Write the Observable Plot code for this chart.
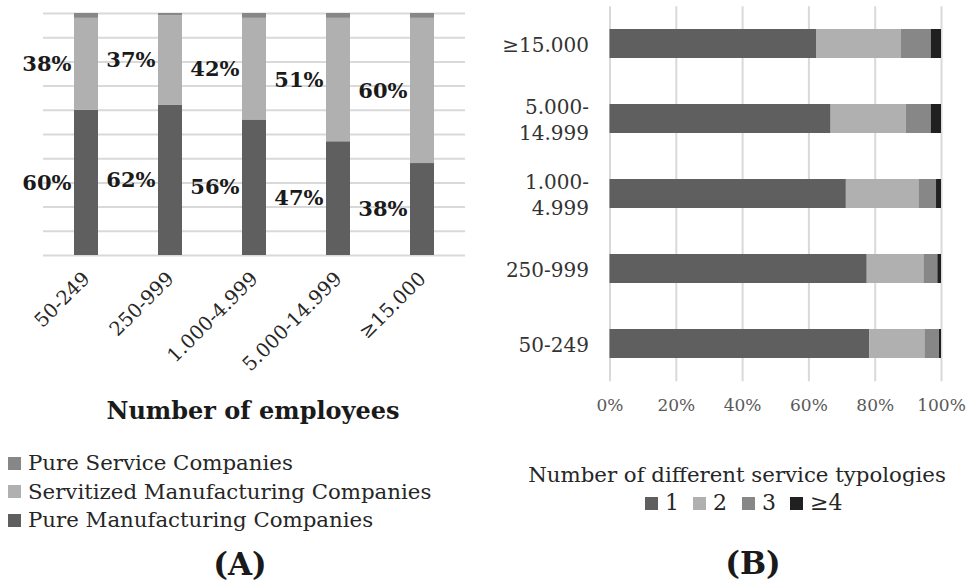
<!DOCTYPE html>
<html>
<head>
<meta charset="utf-8">
<script src="https://cdn.jsdelivr.net/npm/d3@7"></script>
<script src="https://cdn.jsdelivr.net/npm/@observablehq/plot@0.6"></script>
<style>
  body { margin: 0; background: white; }
  #wrap { position: relative; width: 968px; height: 585px; background: white; font-family: "DejaVu Serif", serif; color: #262626; overflow: hidden; }
  .abs { position: absolute; white-space: nowrap; }
  .sq { position: absolute; width: 13px; height: 13px; }
</style>
</head>
<body>
<div id="wrap"></div>
<script>
// ---------- Panel A data ----------
const sizesA = ["50-249", "250-999", "1.000-4.999", "5.000-14.999", "≥15.000"];
const typesA = ["Pure Manufacturing Companies", "Servitized Manufacturing Companies", "Pure Service Companies"];
const pureManufacturing = [60, 62, 56, 47, 38];
const servitized = [38, 37, 42, 51, 60];
const pureService = [2, 1, 2, 2, 2];
const colorsA = ["#5f5f5f", "#b0b0b0", "#878787"];
const legendOrderA = ["Pure Service Companies", "Servitized Manufacturing Companies", "Pure Manufacturing Companies"];

// ---------- Panel B data ----------
const sizesB = ["≥15.000", "5.000-14.999", "1.000-4.999", "250-999", "50-249"];
const sizeLabelsB = ["≥15.000", "5.000-\n14.999", "1.000-\n4.999", "250-999", "50-249"];
const typologies = ["1", "2", "3", "≥4"];
const typ1 = [62.3, 66.7, 71.3, 77.6, 78.4];
const typ2 = [25.5, 22.7, 21.9, 17.1, 16.6];
const typ3 = [9.1, 7.5, 5.3, 4.2, 4.4];
const typ4 = [3.1, 3.1, 1.5, 1.1, 0.6];
const colorsB = ["#5f5f5f", "#b0b0b0", "#878787", "#202020"];
const xTicksB = [0, 20, 40, 60, 80, 100];

const wrap = document.getElementById("wrap");

// ---------- Panel A ----------
const seriesA = [pureManufacturing, servitized, pureService];
const dataA = [];
sizesA.forEach((s, i) => typesA.forEach((t, j) => dataA.push({size: s, type: t, value: seriesA[j][i]})));

const chartA = Plot.plot({
  width: 480, height: 392,
  marginLeft: 43, marginRight: 15, marginTop: 13, marginBottom: 137,
  style: {fontFamily: "DejaVu Serif", fontSize: "19.5px", color: "#262626", background: "white"},
  x: {domain: sizesA, paddingInner: 0.715, paddingOuter: 0.3575, label: null, tickSize: 0, tickRotate: -45, tickPadding: 20},
  y: {domain: [0, 100], axis: null},
  color: {domain: typesA, range: colorsA},
  marks: [
    Plot.gridY(d3.range(0, 101, 10), {stroke: "#d9d9d9", strokeOpacity: 1, strokeWidth: 2}),
    Plot.barY(dataA, {x: "size", y: "value", fill: "type", order: typesA}),
    Plot.text(dataA, Plot.stackY({
      x: "size", y: "value", z: "type", order: typesA,
      filter: d => d.type !== "Pure Service Companies",
      text: d => d.value + "%",
      textAnchor: "end", dx: -15, fontWeight: "bold", fontSize: 21, fill: "#1a1a1a"
    }))
  ]
});
chartA.style.position = "absolute";
chartA.style.left = "0px";
chartA.style.top = "0px";
wrap.appendChild(chartA);

function addText(txt, x, y, opts = {}) {
  const d = document.createElement("div");
  d.className = "abs";
  d.textContent = txt;
  d.style.left = x + "px";
  d.style.top = y + "px";
  d.style.fontSize = (opts.size || 20) + "px";
  d.style.lineHeight = "1";
  if (opts.bold) d.style.fontWeight = "bold";
  if (opts.center) d.style.transform = "translate(-50%, -50%)";
  else d.style.transform = "translate(0, -50%)";
  if (opts.color) d.style.color = opts.color;
  wrap.appendChild(d);
  return d;
}
function addSquare(x, y, color) {
  const s = document.createElement("div");
  s.className = "sq";
  s.style.left = x + "px";
  s.style.top = (y - 6.5) + "px";
  s.style.background = color;
  wrap.appendChild(s);
}

addText("Number of employees", 253, 411, {size: 24, bold: true, center: true, color: "#1a1a1a"});
legendOrderA.forEach((t, i) => {
  const y = 463 + i * 28.5;
  addSquare(8, y, colorsA[typesA.indexOf(t)]);
  addText(t, 28, y, {size: 21.3});
});
addText("(A)", 240, 564, {size: 31, bold: true, center: true, color: "#1a1a1a"});

// ---------- Panel B ----------
const seriesB = [typ1, typ2, typ3, typ4];
const dataB = [];
sizesB.forEach((s, i) => typologies.forEach((t, j) => dataB.push({size: s, typ: t, value: seriesB[j][i]})));
const labelRows = sizesB.map((s, i) => ({size: s, label: sizeLabelsB[i]}));

const chartB = Plot.plot({
  width: 488, height: 420,
  marginLeft: 129.5, marginRight: 27, marginTop: 6.3, marginBottom: 38.7,
  style: {fontFamily: "DejaVu Serif", fontSize: "17px", color: "#595959", background: "white", overflow: "visible"},
  x: {domain: [0, 100], ticks: xTicksB, tickFormat: d => d + "%", tickSize: 0, tickPadding: 17, label: null},
  y: {domain: sizesB, paddingInner: 0.613, paddingOuter: 0.3065, axis: null},
  color: {domain: typologies, range: colorsB},
  marks: [
    Plot.gridX(xTicksB, {stroke: "#d9d9d9", strokeOpacity: 1, strokeWidth: 2}),
    Plot.barX(dataB, {y: "size", x: "value", fill: "typ", order: typologies}),
    Plot.text(labelRows, {y: "size", text: "label", frameAnchor: "left", textAnchor: "end", dx: -21,
      lineHeight: 1.3, fontSize: 20, fill: "#333333"})
  ]
});
chartB.style.position = "absolute";
chartB.style.left = "480px";
chartB.style.top = "0px";
wrap.appendChild(chartB);

addText("Number of different service typologies", 737, 475, {size: 21.3, center: true});
const legXB = [645, 693, 742, 790];
typologies.forEach((t, i) => {
  addSquare(legXB[i], 503, colorsB[i]);
  addText(t, legXB[i] + 20, 503, {size: 22});
});
addText("(B)", 753, 563, {size: 31, bold: true, center: true, color: "#1a1a1a"});
</script>
</body>
</html>
